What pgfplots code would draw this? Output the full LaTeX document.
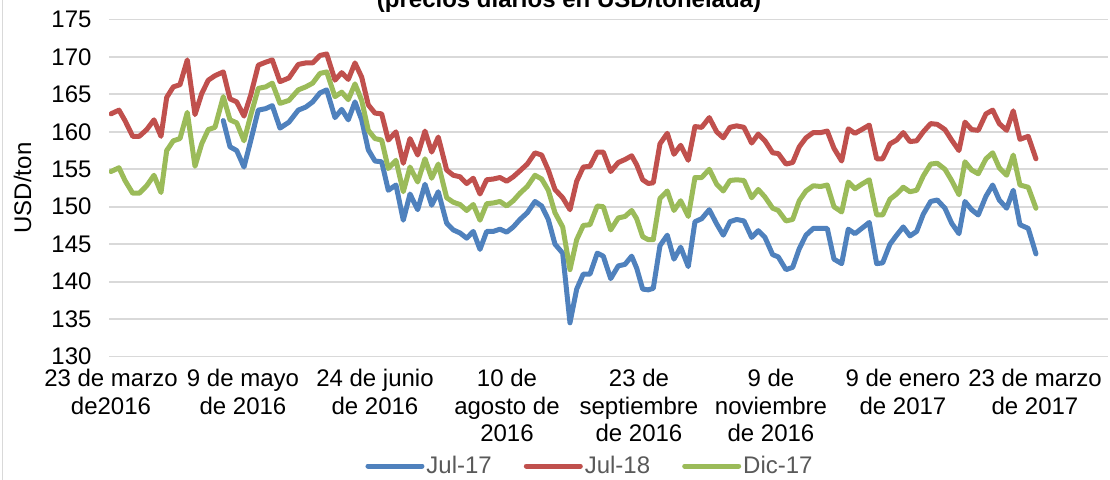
\documentclass[border=0pt]{standalone}
\usepackage{fontspec}
\setmainfont{Liberation Sans}
\usepackage{pgfplots}
\pgfplotsset{compat=1.18}

\definecolor{jul17}{HTML}{4F81BD}
\definecolor{jul18}{HTML}{C0504D}
\definecolor{dic17}{HTML}{9BBB59}
\definecolor{gridgray}{HTML}{D9D9D9}
\definecolor{legtext}{HTML}{595959}
\newcommand{\lbl}{\fontsize{24bp}{27.5bp}\selectfont}
\tikzset{serie/.style={line width=5bp, line join=round, line cap=round}}

\begin{document}
\begin{tikzpicture}
\draw[gridgray, line width=1.5bp] (2.7bp,0bp) -- (2.7bp,480bp);
\node[anchor=base, font=\bfseries\lbl] at (569bp,472bp) {(precios diarios en USD/tonelada)};
\begin{axis}[
  at={(109bp,123.5bp)}, anchor=south west,
  scale only axis, width=999bp, height=337bp,
  xmin=109, xmax=1108, ymin=130, ymax=175,
  ytick={130,135,...,175},
  xtick={111,243,375,507,639,771,903,1035},
  xticklabels={{23 de marzo\\de2016},{9 de mayo\\de 2016},{24 de junio\\de 2016},
    {10 de\\agosto de\\2016},{23 de\\septiembre\\de 2016},{9 de\\noviembre\\de 2016},
    {9 de enero\\de 2017},{23 de marzo\\de 2017}},
  axis line style={draw=none},
  major tick length=0pt,
  ymajorgrids, grid style={gridgray, line width=1.8bp},
  tick label style={font=\lbl},
  /pgf/number format/assume math mode=true,
  xticklabel style={align=center, anchor=north, yshift=-9.5bp},
  yticklabel style={anchor=east, xshift=-14bp},
  ylabel={USD/ton},
  ylabel style={font=\lbl, at={(axis description cs:-0.0866,0.5)}, anchor=center},
  legend columns=3,
  legend style={draw=none, fill=none, font=\lbl, text=legtext,
    at={(0.4815,-0.325)}, anchor=center,
    /tikz/every even column/.append style={column sep=30bp}},
  legend image code/.code={\draw[#1, line width=5bp, line cap=round] (0bp,0bp) -- (54bp,0bp);},
]
\addplot[jul17, serie] coordinates {
(223.3,161.5) (230,158.0) (236.7,157.5) (244,155.3) (250.7,158.8) (258.3,162.9) (265.7,163.1) (272.3,163.5) (280,160.5) (289,161.3)
(298.3,162.9) (305.7,163.3) (312.7,164.0) (320,165.2) (326.7,165.6) (335,161.9) (341.7,163.0) (348.3,161.6) (355,164.0) (361.7,161.6) (368.3,157.6) (375,156.1) (381.7,156.0) (388.3,152.2) (396,152.9) (403.3,148.2) (410,151.7) (417.7,149.6) (425,153.0) (431.7,150.2) (438.3,152.0)
(446.7,147.8) (453.3,146.9) (460,146.5) (466.7,145.8) (473.3,146.7) (480,144.3) (486.7,146.7) (493.3,146.7) (500,147.0) (506.7,146.6) (513.3,147.3) (520,148.3) (527.3,149.2) (535,150.7) (541.7,150.1) (548.3,148.3) (555,145.0) (562.7,143.8) (570,134.5) (576.7,139.0) (583.3,141.0) (590,141.0) (597.3,143.8) (603.3,143.4) (610.7,140.4) (618.3,142.1) (625,142.3) (631.7,143.4)
(636.7,141.8) (642.7,139.0) (648.3,138.9) (653.3,139.1) (660,144.8) (667.3,146.2) (674,143.0) (680.7,144.6) (688.3,142.0) (695,148.0) (701.7,148.4) (709.3,149.6) (716.7,147.7) (723.3,146.2) (730,148.0) (736.7,148.3) (744,148.1) (751.7,145.9) (758.3,146.8) (765,145.9) (772.7,143.6) (778.3,143.3) (786,141.6) (792.7,141.9) (799.3,144.4) (806,146.2) (813.3,147.1) (820.7,147.1) (827.3,147.1)
(834,143.0) (841.7,142.4) (848.3,147.0) (855,146.4) (861.7,147.1) (869.3,147.9) (876.7,142.4) (882.7,142.5) (890,145.0) (896.7,146.2) (903.3,147.3) (910,146.1) (916.7,146.7) (923.3,149.0) (930.7,150.7) (937.3,150.9) (945,149.8) (951.7,147.8) (959,146.4) (965,150.7) (971.7,149.6) (978.3,148.9) (986,151.4) (992.7,152.9) (999.3,150.9) (1006.7,149.8) (1013.3,152.2) (1020,147.6) (1028.3,147.1) (1036,143.7)
};
\addlegendentry{Jul-17}
\addplot[jul18, serie] coordinates {
(111,162.4) (119,162.9) (125,161.5) (132.7,159.4) (139.3,159.4) (146.7,160.3) (154,161.6) (161,159.4) (166.7,164.6) (173.3,166.0) (180,166.3) (187.3,169.6) (195,162.3) (201.7,165.1) (208.3,166.9) (215,167.5) (223.3,168.0) (230,164.4) (236.7,164.0) (244,162.1) (250.7,164.9) (258.3,168.9) (265.7,169.3) (272.3,169.6) (280,166.7) (289,167.2)
(298.3,169.0) (305.7,169.2) (312.7,169.2) (320,170.2) (326.7,170.4) (335,166.9) (341.7,167.9) (348.3,167.0) (355,169.2) (361.7,167.3) (368.3,163.6) (375,162.5) (381.7,162.4) (388.3,158.9) (396,160.0) (403.3,155.8) (410,159.1) (417.7,156.9) (425,160.1) (431.7,157.3) (438.3,159.3)
(446.7,154.9) (453.3,154.2) (460,154.0) (466.7,153.1) (473.3,153.8) (480,151.7) (486.7,153.6) (493.3,153.7) (500,153.9) (506.7,153.4) (513.3,154.0) (520,154.8) (527.3,155.7) (535,157.2) (541.7,156.9) (548.3,154.9) (555,152.3) (562.7,151.2) (570,149.6) (576.7,153.4) (583.3,155.3) (590,155.4) (597.3,157.3) (603.3,157.3) (610.7,154.7) (618.3,155.9) (625,156.3) (631.7,156.8)
(636.7,155.6) (642.7,153.6) (648.3,153.1) (653.3,153.2) (660,158.4) (667.3,159.8) (674,157.0) (680.7,158.2) (688.3,156.2) (695,160.7) (701.7,160.6) (709.3,161.9) (716.7,160.0) (723.3,159.2) (730,160.6) (736.7,160.8) (744,160.6) (751.7,158.5) (758.3,159.7) (765,158.8) (772.7,157.2) (778.3,157.1) (786,155.7) (792.7,155.9) (799.3,158.0) (806,159.2) (813.3,159.9) (820.7,159.9) (827.3,160.1)
(834,157.8) (841.7,156.1) (848.3,160.4) (855,159.8) (861.7,160.3) (869.3,160.9) (876.7,156.4) (882.7,156.4) (890,158.4) (896.7,158.9) (903.3,159.9) (910,158.7) (916.7,158.8) (923.3,160.0) (930.7,161.1) (937.3,161.0) (945,160.3) (951.7,158.9) (959,157.5) (965,161.3) (971.7,160.3) (978.3,160.2) (986,162.4) (992.7,162.9) (999.3,161.1) (1006.7,160.2) (1013.3,162.8) (1020,159.0) (1028.3,159.4) (1036,156.4)
};
\addlegendentry{Jul-18}
\addplot[dic17, serie] coordinates {
(111,154.7) (119,155.2) (125,153.5) (132.7,151.8) (139.3,151.8) (146.7,152.8) (154,154.2) (161,151.9) (166.7,157.5) (173.3,158.8) (180,159.1) (187.3,162.6) (195,155.4) (201.7,158.4) (208.3,160.3) (215,160.6) (223.3,164.7) (230,161.6) (236.7,161.2) (244,158.8) (250.7,162.2) (258.3,165.8) (265.7,166.0) (272.3,166.5) (280,163.8) (289,164.2)
(298.3,165.6) (305.7,166.0) (312.7,166.5) (320,167.8) (326.7,168.0) (335,164.7) (341.7,165.3) (348.3,164.3) (355,166.4) (361.7,164.2) (368.3,160.2) (375,159.1) (381.7,158.9) (388.3,155.1) (396,156.2) (403.3,152.0) (410,155.3) (417.7,153.3) (425,156.4) (431.7,153.8) (438.3,155.7)
(446.7,151.2) (453.3,150.6) (460,150.3) (466.7,149.5) (473.3,150.3) (480,148.2) (486.7,150.4) (493.3,150.5) (500,150.7) (506.7,150.1) (513.3,150.8) (520,151.8) (527.3,152.7) (535,154.2) (541.7,153.7) (548.3,152.2) (555,149.2) (562.7,147.3) (570,141.6) (576.7,145.6) (583.3,147.5) (590,147.6) (597.3,150.1) (603.3,150.0) (610.7,146.9) (618.3,148.5) (625,148.7) (631.7,149.5)
(636.7,148.4) (642.7,146.0) (648.3,145.6) (653.3,145.6) (660,151.1) (667.3,152.1) (674,149.5) (680.7,150.8) (688.3,148.7) (695,153.9) (701.7,153.9) (709.3,155.0) (716.7,153.0) (723.3,152.1) (730,153.5) (736.7,153.6) (744,153.5) (751.7,151.2) (758.3,152.3) (765,151.3) (772.7,149.8) (778.3,149.5) (786,148.1) (792.7,148.3) (799.3,150.8) (806,152.1) (813.3,152.8) (820.7,152.7) (827.3,152.9)
(834,150.0) (841.7,149.3) (848.3,153.3) (855,152.4) (861.7,153.0) (869.3,153.6) (876.7,148.9) (882.7,148.9) (890,151.0) (896.7,151.7) (903.3,152.6) (910,152.0) (916.7,152.2) (923.3,154.1) (930.7,155.7) (937.3,155.8) (945,155.0) (951.7,153.5) (959,151.6) (965,156.0) (971.7,154.9) (978.3,154.4) (986,156.4) (992.7,157.2) (999.3,155.2) (1006.7,154.2) (1013.3,156.9) (1020,152.9) (1028.3,152.6) (1036,149.8)
};
\addlegendentry{Dic-17}
\end{axis}
\pgfresetboundingbox
\path[use as bounding box] (0bp,0bp) rectangle (1110bp,480bp);
\end{tikzpicture}
\end{document}
